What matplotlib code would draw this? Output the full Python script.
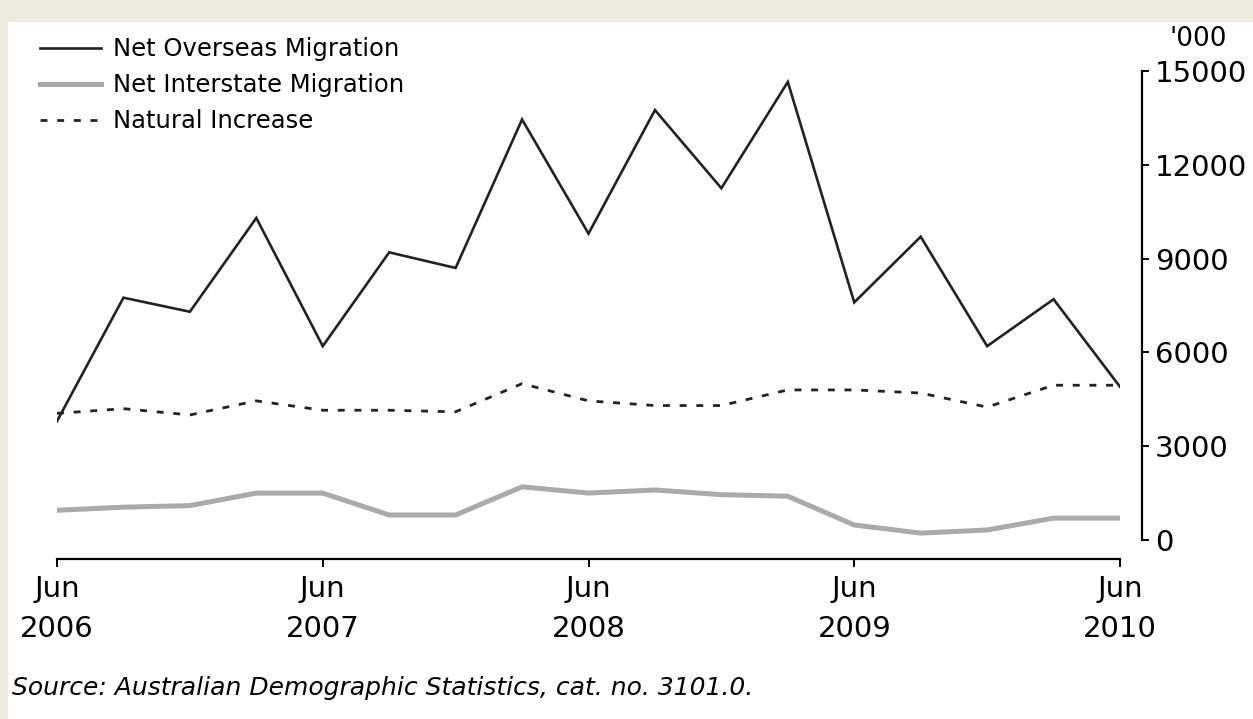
import numpy as np
import matplotlib.pyplot as plt
import matplotlib.patches as mpatches

# quarterly, Jun 2006 .. Jun 2010
quarters = np.arange(17)
tick_pos = [0, 4, 8, 12, 16]
tick_labels = ['Jun\n2006', 'Jun\n2007', 'Jun\n2008', 'Jun\n2009', 'Jun\n2010']

# '000 persons
overseas = [3800, 7750, 7300, 10300, 6200, 9200, 8700, 13450, 9800,
            13750, 11250, 14650, 7600, 9700, 6200, 7700, 4900]
interstate = [950, 1050, 1100, 1500, 1500, 800, 800, 1700, 1500,
              1600, 1450, 1400, 480, 220, 320, 700, 700]
natural = [4050, 4200, 4000, 4450, 4150, 4150, 4100, 5000, 4450,
           4300, 4300, 4800, 4800, 4700, 4250, 4950, 4950]

plt.rcParams['font.family'] = 'DejaVu Sans'

fig = plt.figure(figsize=(12.53, 7.19), dpi=100, facecolor='white')
# beige frame strips (top and left)
beige = '#ecE9df'
fig.patches.append(mpatches.Rectangle((0, 1 - 21/719), 1, 21/719, transform=fig.transFigure,
                                      color=beige, zorder=-1))
fig.patches.append(mpatches.Rectangle((0, 0), 7/1253, 1, transform=fig.transFigure,
                                      color=beige, zorder=-1))

ax = fig.add_axes([57/1253, 1 - 540/719, (1120-57)/1253, (540-71)/719])
ax.set_facecolor('white')

ax.plot(quarters, overseas, color='#222222', lw=1.9, label='Net Overseas Migration',
        solid_joinstyle='miter')
ax.plot(quarters, interstate, color='#aaaaaa', lw=3.6, label='Net Interstate Migration')
ax.plot(quarters, natural, color='#222222', lw=2.0, ls=(0, (2.5, 3.5)), label='Natural Increase')

ax.set_xlim(0, 16)
ax.set_ylim(0, 15000)

for s in ['top', 'left']:
    ax.spines[s].set_visible(False)
ax.spines['right'].set_position(('outward', 16))
ax.spines['bottom'].set_position(('outward', 14))
ax.spines['right'].set_linewidth(1.6)
ax.spines['bottom'].set_linewidth(1.6)

ax.yaxis.tick_right()
ax.set_yticks([0, 3000, 6000, 9000, 12000, 15000])
ax.set_yticklabels(['0', '3000', '6000', '9000', '12000', '15000'])
ax.tick_params(axis='y', direction='out', length=5, width=1.4, labelsize=21, pad=4)

ax.set_xticks(tick_pos)
ax.set_xticklabels(tick_labels, linespacing=1.55)
ax.tick_params(axis='x', direction='out', length=6, width=1.4, labelsize=21, pad=5)

ax.text(1.074, 1.068, "'000", transform=ax.transAxes, fontsize=19, ha='center', va='center')

leg = ax.legend(loc='upper left', bbox_to_anchor=(28/1253, 1 - 25/719),
                bbox_transform=fig.transFigure, frameon=False, fontsize=17.5,
                handlelength=2.5, handletextpad=0.5, labelspacing=0.5, borderpad=0)

fig.text(12/1253, 1 - 688/719, 'Source: Australian Demographic Statistics, cat. no. 3101.0.',
         fontsize=18, style='italic', va='center', ha='left')

fig.savefig('out.png', dpi=100, facecolor=fig.get_facecolor())
